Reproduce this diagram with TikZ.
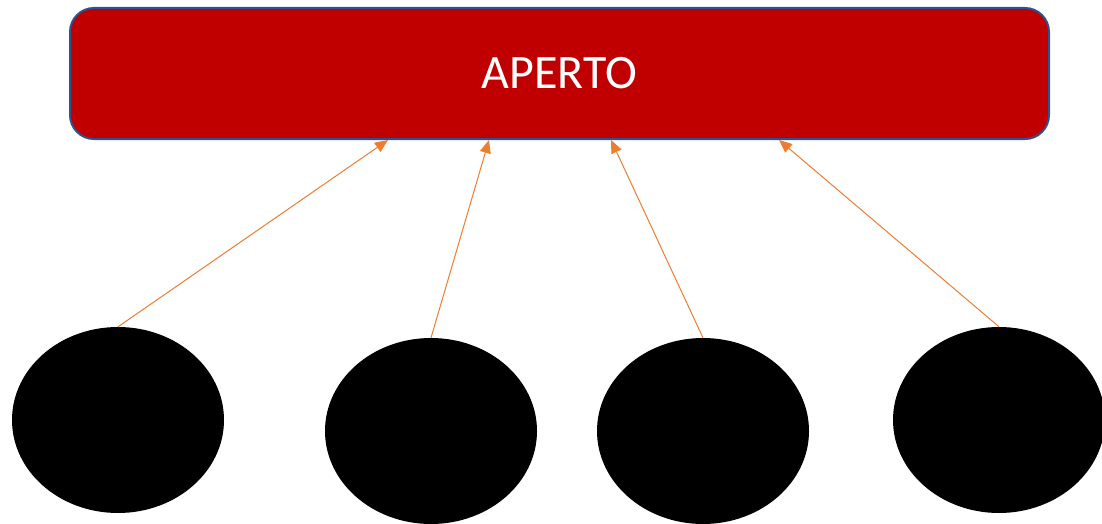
\documentclass[tikz,border=0pt]{standalone}
\usepackage{fontspec}
\setmainfont{Carlito}
\usetikzlibrary{arrows.meta,shapes.geometric}
\definecolor{boxred}{HTML}{C00000}
\definecolor{boxblue}{HTML}{2F528F}
\definecolor{arrorange}{HTML}{ED7D31}
\begin{document}
\begin{tikzpicture}[x=1pt,y=-1pt,
  topbox/.style={draw=boxblue,line width=2pt,fill=boxred,rounded corners=24pt,
    minimum width=979pt,minimum height=131pt,inner sep=0pt,
    text=white,font=\fontsize{48}{52}\selectfont},
  blob/.style={ellipse,fill=black,minimum width=212pt,minimum height=186pt,inner sep=0pt},
  link/.style={draw=arrorange,line width=1pt,-{Triangle[length=13pt,width=11pt]}}]
\useasboundingbox (0,0) rectangle (1102,524);
\node[topbox] (top) at (559.5,73.5) {APERTO};
\node[blob] (e1) at (118,420) {};
\node[blob] (e2) at (431,431) {};
\node[blob] (e3) at (703,431) {};
\node[blob] (e4) at (999,420) {};
\coordinate (a1) at (388,140);
\coordinate (a2) at (489,140);
\coordinate (a3) at (611,140);
\coordinate (a4) at (779,140);
\draw[link] (e1.north) -- (a1);
\draw[link] (e2.north) -- (a2);
\draw[link] (e3.north) -- (a3);
\draw[link] (e4.north) -- (a4);
\end{tikzpicture}
\end{document}
